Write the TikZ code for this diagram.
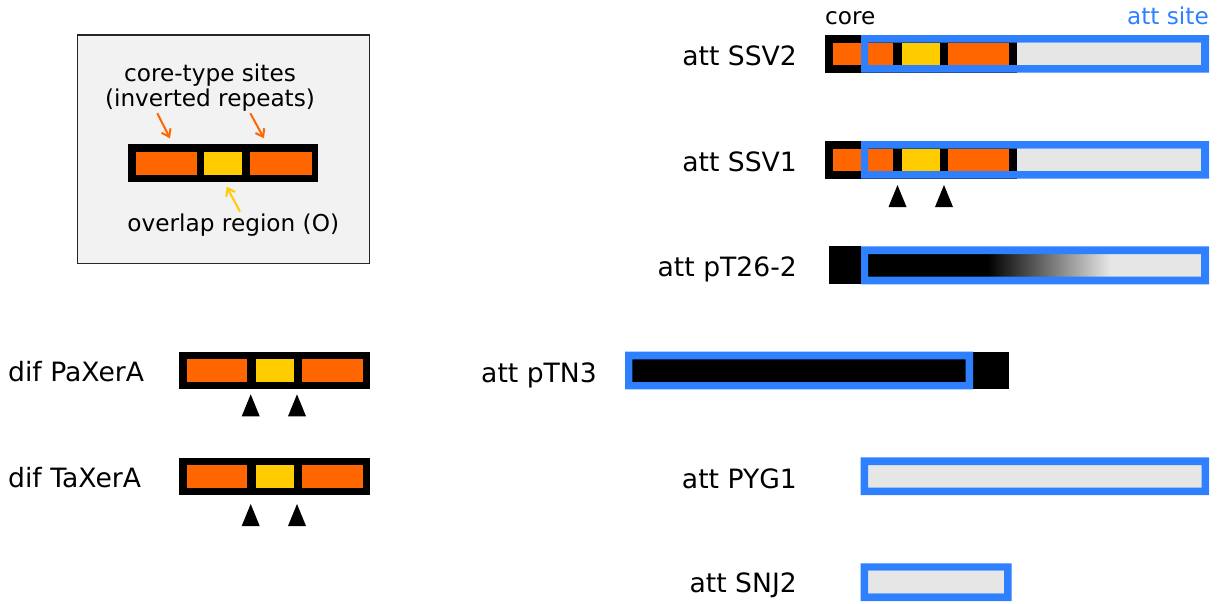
\documentclass[tikz,border=0pt]{standalone}
\usepackage{fontspec}
\setmainfont{DejaVu Sans}
\usetikzlibrary{arrows.meta}
\definecolor{corange}{HTML}{FF6600}
\definecolor{cyellow}{HTML}{FFCC00}
\definecolor{cblue}{HTML}{2E80FF}
\definecolor{cgrey}{HTML}{E6E6E6}
\definecolor{legbg}{HTML}{F2F2F2}
\definecolor{legline}{HTML}{262626}
\tikzset{
  lbl/.style={font=\fontsize{26.6}{30}\selectfont, inner sep=0pt},
  smalllbl/.style={font=\fontsize{23.2}{27}\selectfont, inner sep=0pt},
  pointer/.style={line width=2pt, -{Straight Barb[length=7pt,width=10pt]}},
  tri/.pic={\fill[black] (-9,22) -- (0,0) -- (9,22) -- cycle;},
}
\begin{document}
\begin{tikzpicture}[x=1pt,y=-1pt]
\useasboundingbox (0,0) rectangle (1219,603);

% ---------- legend ----------
\fill[legbg] (77.3,35) rectangle (369.3,263.3);
\draw[legline, line width=1.2pt] (77.3,35) rectangle (369.3,263.3);
\fill[black] (128.3,144.3) rectangle (318.3,181.7);
\fill[corange] (135.7,151.7) rectangle (196.7,175);
\fill[cyellow] (204,151.7) rectangle (242.3,175);
\fill[corange] (250.3,151.7) rectangle (311.7,175);
\node[smalllbl, anchor=base] (lt1) at (210,81.7) {core-type sites};
\node[smalllbl, anchor=base] (lt2) at (210,106) {(inverted repeats)};
\node[smalllbl, anchor=base] (lt3) at (233.3,231) {overlap region (O)};
\coordinate (a1s) at (157.3,113.3);
\coordinate (a1e) at (170,138.3);
\coordinate (a2s) at (250.3,113.3);
\coordinate (a2e) at (264,138.3);
\coordinate (a3s) at (240,211.7);
\coordinate (a3e) at (226.7,186.7);
\draw[pointer, corange] (a1s) -- (a1e);
\draw[pointer, corange] (a2s) -- (a2e);
\draw[pointer, cyellow] (a3s) -- (a3e);

% ---------- dif sites ----------
\node[lbl, anchor=base west] (dpa) at (8,381.7) {dif PaXerA};
\fill[black] (179,351.7) rectangle (370,389.3);
\fill[corange] (186.7,359.3) rectangle (247.3,381.7);
\fill[cyellow] (256,359.3) rectangle (294,381.7);
\fill[corange] (302,359.3) rectangle (362.7,381.7);
\pic at (250.7,394.3) {tri};
\pic at (297,394.3) {tri};

\node[lbl, anchor=base west] (dta) at (8,487.5) {dif TaXerA};
\fill[black] (179,457.7) rectangle (370,495.3);
\fill[corange] (186.7,465.3) rectangle (247.3,487.7);
\fill[cyellow] (256,465.3) rectangle (294,487.7);
\fill[corange] (302,465.3) rectangle (362.7,487.7);
\pic at (250.7,504) {tri};
\pic at (297,504) {tri};

% ---------- headers ----------
\node[smalllbl, anchor=base west] (hcore) at (825,24) {core};
\node[smalllbl, anchor=base east, text=cblue] (hatt) at (1209,24) {att site};

% ---------- att SSV2 ----------
\node[lbl, anchor=base east] (lssv2) at (797,65) {att SSV2};
\fill[black] (825,35) rectangle (1017,72.7);
\fill[corange] (833,42.7) rectangle (893,65);
\fill[cyellow] (902,42.7) rectangle (940,65);
\fill[corange] (948.3,42.7) rectangle (1009.3,65);
\fill[cgrey] (1017,42.7) rectangle (1201,65);
\fill[cblue, even odd rule] (861,35) rectangle (1209,72.7) (868,42.7) rectangle (1201,65);

% ---------- att SSV1 ----------
\node[lbl, anchor=base east] (lssv1) at (797,171) {att SSV1};
\fill[black] (825,141) rectangle (1017,178.7);
\fill[corange] (833,148.7) rectangle (893,171);
\fill[cyellow] (902,148.7) rectangle (940,171);
\fill[corange] (948.3,148.7) rectangle (1009.3,171);
\fill[cgrey] (1017,148.7) rectangle (1201,171);
\fill[cblue, even odd rule] (861,141) rectangle (1209,178.7) (868,148.7) rectangle (1201,171);
\pic at (897.5,185) {tri};
\pic at (944,185) {tri};

% ---------- att pT26-2 ----------
\node[lbl, anchor=base east] (lpt26) at (797,276.7) {att pT26-2};
\fill[black] (829,246.3) rectangle (861,284.3);
\fill[black] (868,254) rectangle (988,276.5);
\shade[left color=black, right color=cgrey] (987.5,254) rectangle (1110,276.5);
\fill[cgrey] (1109.5,254) rectangle (1201,276.5);
\fill[cblue, even odd rule] (861,246.3) rectangle (1209,284.3) (868,254) rectangle (1201,276.5);

% ---------- att pTN3 ----------
\node[lbl, anchor=base east] (lptn3) at (597,382.7) {att pTN3};
\fill[black] (632.3,359.3) rectangle (965.7,382);
\fill[black] (973,351.7) rectangle (1009,389.3);
\fill[cblue, even odd rule] (625,351.7) rectangle (973,389.3) (632.3,359.3) rectangle (965.7,382);

% ---------- att PYG1 ----------
\node[lbl, anchor=base east] (lpyg1) at (797,488) {att PYG1};
\fill[cgrey] (868,465) rectangle (1201.7,487.7);
\fill[cblue, even odd rule] (860.7,457.3) rectangle (1209,495) (868,465) rectangle (1201.7,487.7);

% ---------- att SNJ2 ----------
\node[lbl, anchor=base east] (lsnj2) at (797,592) {att SNJ2};
\fill[cgrey] (868,570.7) rectangle (1004,593.3);
\fill[cblue, even odd rule] (860.7,563.3) rectangle (1011.7,601) (868,570.7) rectangle (1004,593.3);
\end{tikzpicture}
\end{document}
